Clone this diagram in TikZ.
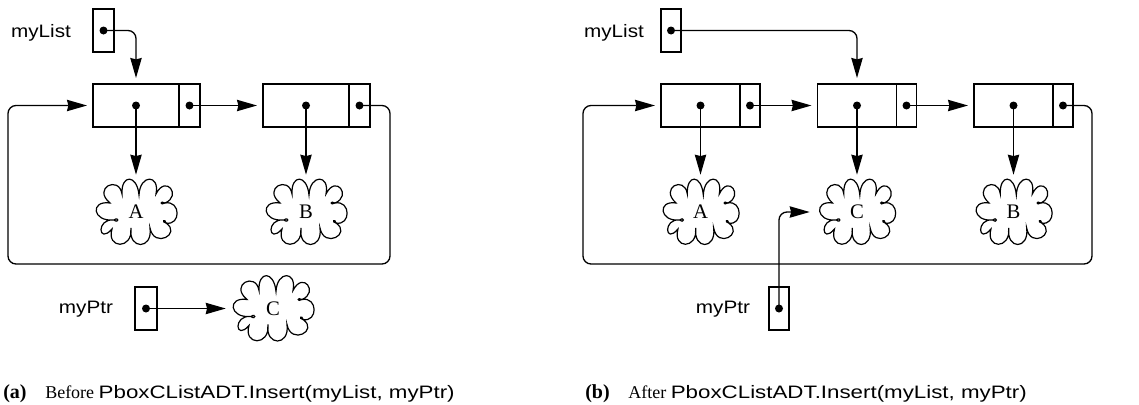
\documentclass[tikz,border=0pt]{standalone}
\usepackage{fontspec}
\setmainfont{Liberation Serif}
\setsansfont{Liberation Sans}[FakeStretch=1.15]
\newfontfamily\capsans{Liberation Sans}[FakeStretch=1.24]
\usetikzlibrary{arrows.meta,positioning}

\tikzset{
  databox/.style={draw, line width=1pt, minimum width=#1, minimum height=32.25pt, inner sep=0pt, outer sep=0pt},
  nextbox/.style={draw, line width=1pt, minimum width=15.75pt, minimum height=32.25pt, inner sep=0pt, outer sep=0pt},
  dot/.style={circle, fill, inner sep=0pt, minimum size=6pt},
  ptr/.style={line width=1pt, rounded corners=6pt, shorten >=4.5pt, -{Stealth[length=15pt,width=8.5pt,inset=1pt]}},
  lbl/.style={font=\fontsize{13.5}{16}\sffamily, inner sep=0pt},
  cloudtext/.style={font=\fontsize{15.5}{18}\selectfont, minimum width=61.5pt, minimum height=46.5pt, inner sep=0pt},
  puffs/.pic={
    \draw[line width=0.9pt]
      (-22,-8) .. controls (-40,-6) and (-38,-33) .. (-24,-17)
      .. controls (-30,-37) and (-3,-38) .. (-5,-16)
      .. controls (-8,-38) and (17,-38) .. (14,-16)
      .. controls (18,-37) and (46,-22) .. (30,-11)
      .. controls +(-5,1) and +(-1,5) .. (30,-11)
      .. controls (45,-14) and (45,12) .. (29,9)
      .. controls +(-5,-3) and +(-5,3) .. (29,9)
      .. controls (46,16) and (30,38) .. (20,18)
      .. controls (24,38) and (4,38) .. (3,17)
      .. controls (1,38) and (-15,38) .. (-14,18)
      .. controls (-17,37) and (-44,24) .. (-26,9)
      .. controls (-46,12) and (-44,-10) .. (-22,-8)
      .. controls +(5,-4) and +(5,4) .. (-22,-8);
  }
}

\begin{document}
\begin{tikzpicture}[x=0.75pt,y=0.75pt,yscale=-1,xscale=1]
\useasboundingbox (0,0) rectangle (1139,404);

%%%% (a) before insert
% Text Node
\node[lbl, anchor=base] (lstA) at (41,37) {myList};
\node[nextbox] (pA) at (103.5,30.5) {};
% list cells
\node[databox=64.5pt] (a1) at (136,105.5) {};
\node[nextbox, right=0pt of a1] (a1n) {};
\node[databox=64.5pt] (a2) at (306,105.5) {};
\node[nextbox, right=0pt of a2] (a2n) {};
\foreach \n in {pA,a1,a1n,a2,a2n} \node[dot] (\n-d) at (\n.center) {};
% clouds
\node[cloudtext] (cA) at (136,212) {A};
\node[cloudtext] (cB) at (306,212) {B};
\node[cloudtext] (cC) at (273,308.5) {C};
\foreach \c in {cA,cB,cC} \pic at (\c) {puffs};
% Text Node
\node[lbl, anchor=base] (ptrA) at (86,313) {myPtr};
\node[nextbox, minimum width=16.5pt] (qA) at (146,308.5) {};
\node[dot] (qA-d) at (qA.center) {};
\coordinate (loopA1) at (390,264);
\coordinate (loopA2) at (8,264);
% pointers
\draw[ptr] (pA-d.center) -| (a1.north);
\draw[ptr] (a1n-d.center) -- (a2.west);
\draw[ptr] (a1-d.center) -- (cA.north);
\draw[ptr] (a2-d.center) -- (cB.north);
\draw[ptr] (a2n-d.center) -| (loopA1) -- (loopA2) |- (a1.west);
\draw[ptr] (qA-d.center) -- (cC.west);

%%%% (b) after insert
% Text Node
\node[lbl, anchor=base] (lstB) at (614,37) {myList};
\node[nextbox, minimum width=15pt] (pB) at (671,30.5) {};
% list cells
\node[databox=59.25pt] (b1) at (700.5,105.5) {};
\node[nextbox, minimum width=15pt, right=0pt of b1] (b1n) {};
\node[databox=59.25pt] (b2) at (857,105.5) {};
\node[nextbox, minimum width=15pt, right=0pt of b2] (b2n) {};
\node[databox=59.25pt] (b3) at (1013.5,105.5) {};
\node[nextbox, minimum width=15pt, right=0pt of b3] (b3n) {};
\foreach \n in {pB,b1,b1n,b2,b2n,b3,b3n} \node[dot] (\n-d) at (\n.center) {};
% clouds
\node[cloudtext] (dA) at (700.5,212) {A};
\node[cloudtext] (dC) at (857,212) {C};
\node[cloudtext] (dB) at (1013.5,212) {B};
\foreach \c in {dA,dC,dB} \pic[xscale=0.94] at (\c) {puffs};
% Text Node
\node[lbl, anchor=base] (ptrB) at (723,313) {myPtr};
\node[nextbox, minimum width=15pt] (qB) at (779,308.5) {};
\node[dot] (qB-d) at (qB.center) {};
\coordinate (loopB1) at (1092,264);
\coordinate (loopB2) at (583,264);
% pointers
\draw[ptr] (pB-d.center) -| (b2.north);
\draw[ptr] (b1n-d.center) -- (b2.west);
\draw[ptr] (b2n-d.center) -- (b3.west);
\draw[ptr] (b1-d.center) -- (dA.north);
\draw[ptr] (b2-d.center) -- (dC.north);
\draw[ptr] (b3-d.center) -- (dB.north);
\draw[ptr] (b3n-d.center) -| (loopB1) -- (loopB2) |- (b1.west);
\draw[ptr] (qB-d.center) |- (dC.west);

% captions
\node[anchor=base west, inner sep=0pt] (capA) at (3,398) {\fontsize{13.5}{16}\selectfont{\fontsize{15}{16}\selectfont\textbf{(a)}}\hspace{14pt}Before {\capsans PboxCListADT.Insert(myList, myPtr)}};
\node[anchor=base west, inner sep=0pt] (capB) at (585,398) {\fontsize{13.5}{16}\selectfont{\fontsize{15}{16}\selectfont\textbf{(b)}}\hspace{14pt}After {\capsans PboxCListADT.Insert(myList, myPtr)}};
\end{tikzpicture}
\end{document}
